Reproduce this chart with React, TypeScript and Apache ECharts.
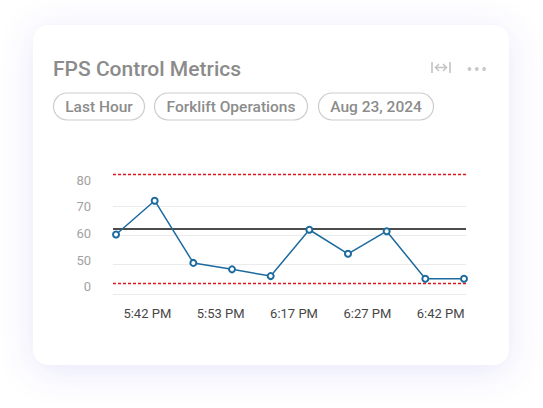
import React, { useEffect, useRef } from "react";
import * as echarts from "echarts";

const titleText = "FPS Control Metrics";
const chips = ["Last Hour", "Forklift Operations", "Aug 23, 2024"];
const timeLabels = ["5:42 PM", "5:53 PM", "6:17 PM", "6:27 PM", "6:42 PM"];
const fpsValues = [60.3, 71.8, 50.6, 48.4, 46.1, 61.9, 53.7, 61.4, 45.2, 45.2];
const yTickValues = [40, 50, 60, 70, 80];
const yTickLabels = ["0", "50", "60", "70", "80"];
const centerLine = 62.2;
const upperLimit = 80.8;
const lowerLimit = 43.5;

export default function App() {
  const ref = useRef<HTMLDivElement>(null);
  useEffect(() => {
    if (!ref.current) return;
    const chart = echarts.init(ref.current, undefined, { renderer: "svg" });
    const font = "Roboto, 'Noto Sans', sans-serif";
    const chipX = [53, 154, 318];
    const chipW = [91, 153, 115];
    const iconColor = "#c3c3c3";
    const graphics: any[] = [
      {
        type: "rect",
        z: -10,
        shape: { x: 33, y: 25, width: 476, height: 340, r: 16 },
        style: {
          fill: "#ffffff",
          shadowBlur: 34,
          shadowColor: "rgba(105, 95, 225, 0.16)",
          shadowOffsetY: 6,
        },
      },
      {
        type: "text",
        z: 10,
        x: 53,
        y: 68.6,
        style: {
          text: titleText,
          fill: "#8b8b8b",
          font: `500 21px ${font}`,
          textVerticalAlign: "middle",
        },
      },
      { type: "line", z: 10, shape: { x1: 432, y1: 62, x2: 432, y2: 73 }, style: { stroke: iconColor, lineWidth: 1.6 } },
      { type: "line", z: 10, shape: { x1: 450, y1: 62, x2: 450, y2: 73 }, style: { stroke: iconColor, lineWidth: 1.6 } },
      { type: "line", z: 10, shape: { x1: 435.5, y1: 67.5, x2: 446.5, y2: 67.5 }, style: { stroke: iconColor, lineWidth: 1.5 } },
      { type: "polyline", z: 10, shape: { points: [[439, 64], [435.5, 67.5], [439, 71]] }, style: { stroke: iconColor, lineWidth: 1.5, fill: "none" } },
      { type: "polyline", z: 10, shape: { points: [[443, 64], [446.5, 67.5], [443, 71]] }, style: { stroke: iconColor, lineWidth: 1.5, fill: "none" } },
      { type: "circle", z: 10, shape: { cx: 469.5, cy: 69, r: 1.9 }, style: { fill: "#c8c8c8" } },
      { type: "circle", z: 10, shape: { cx: 476.8, cy: 69, r: 1.9 }, style: { fill: "#c8c8c8" } },
      { type: "circle", z: 10, shape: { cx: 484.1, cy: 69, r: 1.9 }, style: { fill: "#c8c8c8" } },
    ];
    chips.forEach((c, i) => {
      graphics.push({
        type: "rect",
        z: 10,
        shape: { x: chipX[i] + 0.5, y: 93, width: chipW[i], height: 27, r: 13.5 },
        style: { fill: "#ffffff", stroke: "#cdcdcd", lineWidth: 1.2 },
      });
      graphics.push({
        type: "text",
        z: 11,
        x: chipX[i] + 0.5 + chipW[i] / 2,
        y: 106.6,
        style: {
          text: c,
          fill: "#8c8c8c",
          font: `500 15.5px ${font}`,
          textAlign: "center",
          textVerticalAlign: "middle",
        },
      });
    });

    const option: any = {
      animation: false,
      textStyle: { fontFamily: font },
      backgroundColor: "#ffffff",
      graphic: graphics,
      grid: { left: 113, right: 77, top: 174, bottom: 114, containLabel: false },
      xAxis: [
        {
          type: "value",
          min: -0.078,
          max: 9.052,
          show: true,
          axisLine: { show: false },
          axisTick: { show: false },
          axisLabel: { show: false },
          splitLine: { show: false },
        },
        {
          type: "value",
          position: "bottom",
          min: 0.532,
          max: 5.345,
          splitNumber: 5,
          minInterval: 1,
          maxInterval: 1,
          axisLine: { show: false },
          axisTick: { show: false },
          splitLine: { show: false },
          axisLabel: {
            margin: 13,
            color: "#474747",
            fontSize: 13,
            fontFamily: font,
            formatter: (v: number) => {
              const k = Math.round(v);
              return Math.abs(v - k) < 1e-6 && k >= 1 && k <= timeLabels.length ? timeLabels[k - 1] : "";
            },
          },
        },
      ],
      yAxis: [
        {
          type: "value",
          min: 40,
          max: 80.9,
          interval: 10,
          axisLine: { show: false },
          axisTick: { show: false },
          axisLabel: { show: false },
          splitLine: {
            show: true,
            showMaxLine: false,
            lineStyle: {
              color: ["#ebebeb", "#ebebeb", "#ebebeb", "#ebebeb", "rgba(0,0,0,0)", "rgba(0,0,0,0)"],
              width: 1,
            },
          },
        },
        {
          type: "value",
          position: "left",
          min: 37.26,
          max: 82.25,
          splitNumber: 4,
          minInterval: 10,
          maxInterval: 10,
          axisLine: { show: false },
          axisTick: { show: false },
          splitLine: { show: false },
          axisLabel: {
            margin: 22,
            color: "#a2a2a2",
            fontSize: 13,
            fontFamily: font,
            formatter: (v: number) => {
              const idx = yTickValues.findIndex((t) => Math.abs(t - v) < 1e-6);
              return idx >= 0 ? yTickLabels[idx] : "";
            },
          },
        },
      ],
      series: [
        {
          type: "line",
          xAxisIndex: 0,
          yAxisIndex: 0,
          data: fpsValues.map((v, i) => [i, v]),
          symbol: "emptyCircle",
          symbolSize: 6,
          lineStyle: { color: "#1d6a9e", width: 1.5 },
          itemStyle: { color: "#1d6a9e", borderWidth: 1.5, borderColor: "#1d6a9e" },
          z: 5,
          markLine: {
            silent: true,
            symbol: "none",
            label: { show: false },
            animation: false,
            data: [
              { yAxis: upperLimit, lineStyle: { color: "#e0141c", type: [3, 2], width: 1.4 } },
              { yAxis: lowerLimit, lineStyle: { color: "#e0141c", type: [3, 2], width: 1.4 } },
              { yAxis: centerLine, lineStyle: { color: "#111111", type: "solid", width: 1.5 } },
            ],
          },
        },
      ],
    };
    chart.setOption(option);
    return () => chart.dispose();
  }, []);
  return (
    <div
      ref={ref}
      style={{ position: "fixed", left: 0, top: 0, width: 543, height: 408, background: "#ffffff" }}
    />
  );
}
